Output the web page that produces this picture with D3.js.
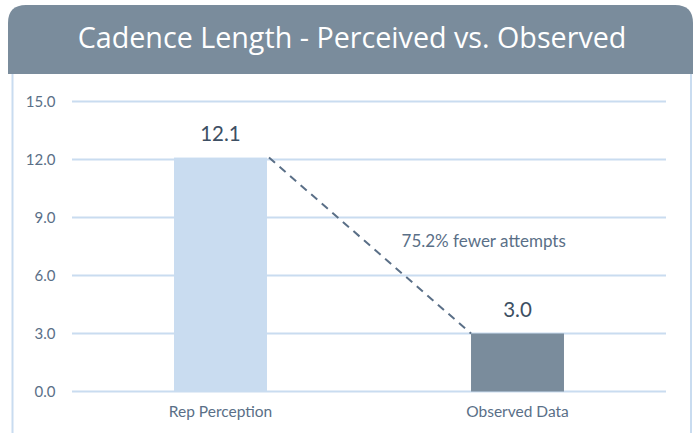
<!DOCTYPE html>
<html>
<head>
<meta charset="utf-8">
<script src="https://cdn.jsdelivr.net/npm/d3@7"></script>
<style>
  body { margin: 0; background: #fff; }
  svg { display: block; }
</style>
</head>
<body>
<svg id="chart" width="696" height="433"></svg>
<script>
// chart data
var categories = ['Rep Perception', 'Observed Data'];
var values = [12.1, 3.0];
var barColors = ['#c9dcf0', '#7a8c9c'];
var yTicks = [0, 3, 6, 9, 12, 15];
var title = 'Cadence Length - Perceived vs. Observed';
var note = '75.2% fewer attempts';

var width = 696, height = 433;
var margin = { top: 101.5, right: 30, bottom: 41.5, left: 72 };
var innerW = width - margin.left - margin.right,
    innerH = height - margin.top - margin.bottom;

var svg = d3.select('#chart');

// frame: header band with rounded top corners + light side borders
var hx = 8, hy = 5, hw = 685, hh = 69, r = 18;
svg.append('path')
    .attr('d', 'M' + hx + ',' + (hy + hh) +
        ' V' + (hy + r) +
        ' Q' + hx + ',' + hy + ' ' + (hx + r) + ',' + hy +
        ' H' + (hx + hw - r) +
        ' Q' + (hx + hw) + ',' + hy + ' ' + (hx + hw) + ',' + (hy + r) +
        ' V' + (hy + hh) + ' Z')
    .attr('fill', '#7a8c9c');

svg.append('line')
    .attr('x1', 12.5).attr('x2', 12.5)
    .attr('y1', hy + hh).attr('y2', height)
    .attr('stroke', '#c9dcf0').attr('stroke-width', 2);
svg.append('line')
    .attr('x1', 691).attr('x2', 691)
    .attr('y1', hy + hh).attr('y2', height)
    .attr('stroke', '#c9dcf0').attr('stroke-width', 2);

svg.append('text')
    .attr('x', 352)
    .attr('y', 47.5)
    .attr('text-anchor', 'middle')
    .attr('fill', '#ffffff')
    .style('font-family', '"Open Sans", sans-serif')
    .style('font-size', '28.7px')
    .text(title);

var g = svg.append('g')
    .attr('transform', 'translate(' + margin.left + ',' + margin.top + ')');

var x = d3.scaleBand()
    .domain(categories)
    .range([0, innerW])
    .paddingInner(0.687)
    .paddingOuter(0.3435);

var y = d3.scaleLinear()
    .domain([0, 15])
    .range([innerH, 0]);

// gridlines
g.selectAll('.grid')
    .data(yTicks)
    .enter()
    .append('line')
    .attr('class', 'grid')
    .attr('x1', 0)
    .attr('x2', innerW)
    .attr('y1', function (d) { return y(d); })
    .attr('y2', function (d) { return y(d); })
    .attr('stroke', '#c9dcf0')
    .attr('stroke-width', 2);

// y axis labels
var yAxis = d3.axisLeft(y)
    .tickValues(yTicks)
    .tickFormat(d3.format('.1f'))
    .tickSize(0)
    .tickPadding(16.5);
var ya = g.append('g').call(yAxis);
ya.select('.domain').remove();
ya.selectAll('text')
    .attr('fill', '#5a6f87')
    .style('font-family', 'Lato, sans-serif')
    .style('font-size', '15px');

// x axis labels
var xAxis = d3.axisBottom(x).tickSize(0).tickPadding(14);
var xa = g.append('g')
    .attr('transform', 'translate(0,' + innerH + ')')
    .call(xAxis);
xa.select('.domain').remove();
xa.selectAll('text')
    .attr('fill', '#5a6f87')
    .style('font-family', 'Lato, sans-serif')
    .style('font-size', '15.5px');

// bars
g.selectAll('.bar')
    .data(values)
    .enter()
    .append('rect')
    .attr('class', 'bar')
    .attr('x', function (d, i) { return x(categories[i]); })
    .attr('y', function (d) { return y(d); })
    .attr('width', x.bandwidth())
    .attr('height', function (d) { return innerH - y(d); })
    .attr('fill', function (d, i) { return barColors[i]; });

// value labels
g.selectAll('.val')
    .data(values)
    .enter()
    .append('text')
    .attr('class', 'val')
    .attr('x', function (d, i) { return x(categories[i]) + x.bandwidth() / 2; })
    .attr('y', function (d) { return y(d) - 16.3; })
    .attr('text-anchor', 'middle')
    .attr('fill', '#3d4f63')
    .style('font-family', 'Lato, sans-serif')
    .style('font-size', '20.5px')
    .text(function (d) { return d.toFixed(1); });

// dashed connector between the bar tops
g.append('line')
    .attr('x1', x(categories[0]) + x.bandwidth() + 2)
    .attr('y1', y(values[0]))
    .attr('x2', x(categories[1]))
    .attr('y2', y(values[1]))
    .attr('stroke', '#5a6f87')
    .attr('stroke-width', 2)
    .attr('stroke-dasharray', '8,6');

g.append('text')
    .attr('x', x(categories[1]) - 69.5)
    .attr('y', y(7.45))
    .attr('fill', '#5a6f87')
    .style('font-family', 'Lato, sans-serif')
    .style('font-size', '17px')
    .text(note);
</script>
</body>
</html>
